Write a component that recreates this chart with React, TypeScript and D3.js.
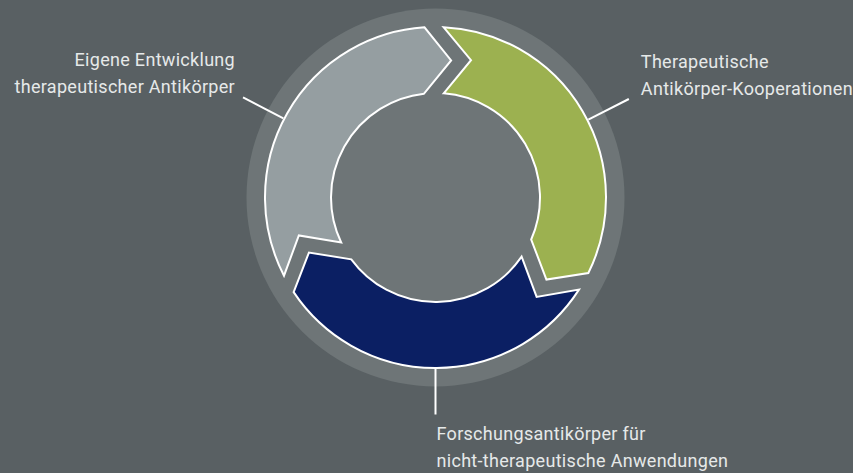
import * as d3 from 'd3';

// three equal parts of the cycle, clockwise from the top
const parts = ['Therapeutische Antikörper-Kooperationen', 'Forschungsantikörper für nicht-therapeutische Anwendungen', 'Eigene Entwicklung therapeutischer Antikörper'];
const shares = [1, 1, 1];
const colors = ['#9cb150', '#0b1f63', '#959ea1'];
const labelLines = [
  ['Therapeutische', 'Antikörper-Kooperationen'],
  ['Forschungsantikörper für', 'nicht-therapeutische Anwendungen'],
  ['Eigene Entwicklung', 'therapeutischer Antikörper'],
];
// angle of the leader line for each label (degrees, clockwise from top)
const leaderAngles = [63, 180, -62.5];

const W = 853;
const H = 473;
const cx = 435.5;
const cy = 197.5;
const ringR = 189;
const outerR = 170.5;
const innerR = 104.5;

const rad = (deg: number) => (deg * Math.PI) / 180;
// d3 pie angles -> point on screen
const pt = (a: number, r: number): [number, number] => [cx + r * Math.sin(a), cy - r * Math.cos(a)];

const pie = d3.pie<number>().sort(null).startAngle(rad(2.7)).endAngle(rad(362.7));

function arrowPath(a0: number, a1: number) {
  const tailInner = a0 + rad(1.8);
  const notch = a0 + rad(11.8);
  const headOuter = a1 - rad(6.4);
  const headInner = a1 - rad(9);
  const tip = a1 + rad(3.8);
  const p = d3.path();
  const [ox, oy] = pt(a0, outerR);
  p.moveTo(ox, oy);
  p.arc(cx, cy, outerR, a0 - Math.PI / 2, headOuter - Math.PI / 2, false);
  p.lineTo(...pt(tip, 138));
  p.lineTo(...pt(headInner, innerR));
  p.arc(cx, cy, innerR, headInner - Math.PI / 2, tailInner - Math.PI / 2, true);
  p.lineTo(...pt(notch, 141.8));
  p.closePath();
  return p.toString();
}

export default function App() {
  const arcs = pie(shares);
  const font = 'Roboto, "Open Sans", sans-serif';
  return (
    <svg width={W} height={H} style={{ position: 'absolute', left: 0, top: 0 }}>
      <rect width={W} height={H} fill="#596063" />
      <circle cx={cx} cy={cy} r={ringR} fill="#6e7577" />
      {arcs.map((d, i) => (
        <path key={parts[i]} d={arrowPath(d.startAngle, d.endAngle)} fill={colors[i]} stroke="#ffffff" strokeWidth={2} strokeLinejoin="miter" />
      ))}
      {leaderAngles.map((deg, i) => {
        const [x1, y1] = pt(rad(deg), outerR + 1);
        const [x2, y2] = pt(rad(deg), 217);
        return <line key={'l' + i} x1={x1} y1={y1} x2={x2} y2={y2} stroke="#ffffff" strokeWidth={2} />;
      })}
      {labelLines.map((lines, i) => {
        const [ex, ey] = pt(rad(leaderAngles[i]), 217);
        let x = ex + 12;
        let y = ey - 31;
        let anchor = 'start';
        if (i === 1) {
          x = ex + 1;
          y = ey + 25;
        }
        if (i === 2) {
          x = ex - 8;
          anchor = 'end';
        }
        return (
          <text key={'t' + i} x={x} y={y} textAnchor={anchor} fill="#e6e9e9" fontFamily={font} fontSize={18} letterSpacing={0.3}>
            {lines.map((s, j) => (
              <tspan key={j} x={x} dy={j === 0 ? 0 : 27}>{s}</tspan>
            ))}
          </text>
        );
      })}
    </svg>
  );
}
